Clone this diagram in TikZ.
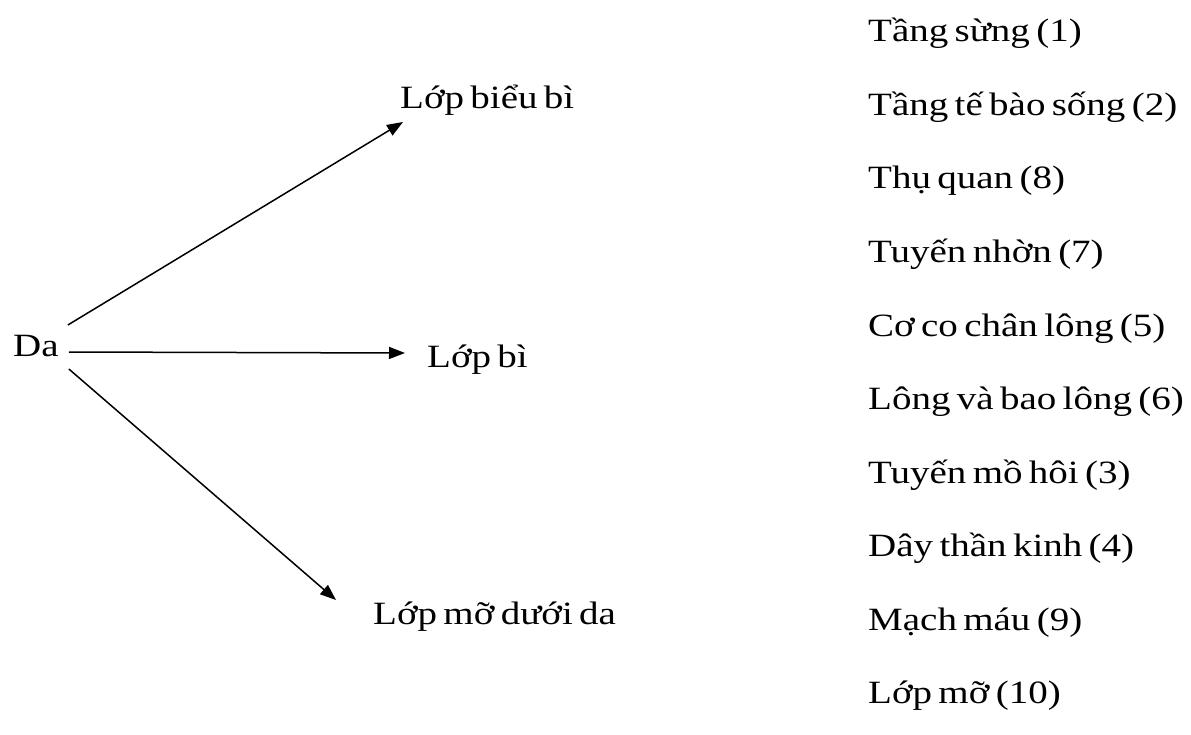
\documentclass[tikz,border=0pt]{standalone}
\usepackage{fontspec}
\setmainfont{Liberation Serif}[FakeStretch=1.2,WordSpace=0.65]
\usetikzlibrary{arrows.meta,calc}
\begin{document}
\begin{tikzpicture}[x=1pt,y=-1pt,
  lbl/.style={anchor=base west,inner sep=0pt,font=\fontsize{32.5}{38}\selectfont},
  conn/.style={line width=1.5pt,-{Triangle[length=16pt,width=12pt]}}]
\useasboundingbox (0,0) rectangle (1191,735);
\node[lbl] (da) at (13,356) {Da};
\node[lbl] (bieubi) at (400,109) {Lớp biểu bì};
\node[lbl] (bi) at (427,367) {Lớp bì};
\node[lbl] (mo) at (373,624) {Lớp mỡ dưới da};
\draw[conn] ($(da.base east)+(9,-31)$) -- ($(bieubi.base west)+(3,13)$);
\draw[conn] ($(da.base east)+(10,-4)$) -- ($(bi.base west)+(-22,-14)$);
\draw[conn] ($(da.base east)+(10,13)$) -- ($(mo.base west)+(-37,-24)$);
\node[lbl] (l1) at (868,42) {Tầng sừng (1)};
\node[lbl] (l2) at (868,115.5) {Tầng tế bào sống (2)};
\node[lbl] (l3) at (868,189) {Thụ quan (8)};
\node[lbl] (l4) at (868,262.5) {Tuyến nhờn (7)};
\node[lbl] (l5) at (868,336) {Cơ co chân lông (5)};
\node[lbl] (l6) at (868,409.5) {Lông và bao lông (6)};
\node[lbl] (l7) at (868,483) {Tuyến mồ hôi (3)};
\node[lbl] (l8) at (868,556.5) {Dây thần kinh (4)};
\node[lbl] (l9) at (868,630) {Mạch máu (9)};
\node[lbl] (l10) at (868,703.5) {Lớp mỡ (10)};
\end{tikzpicture}
\end{document}
